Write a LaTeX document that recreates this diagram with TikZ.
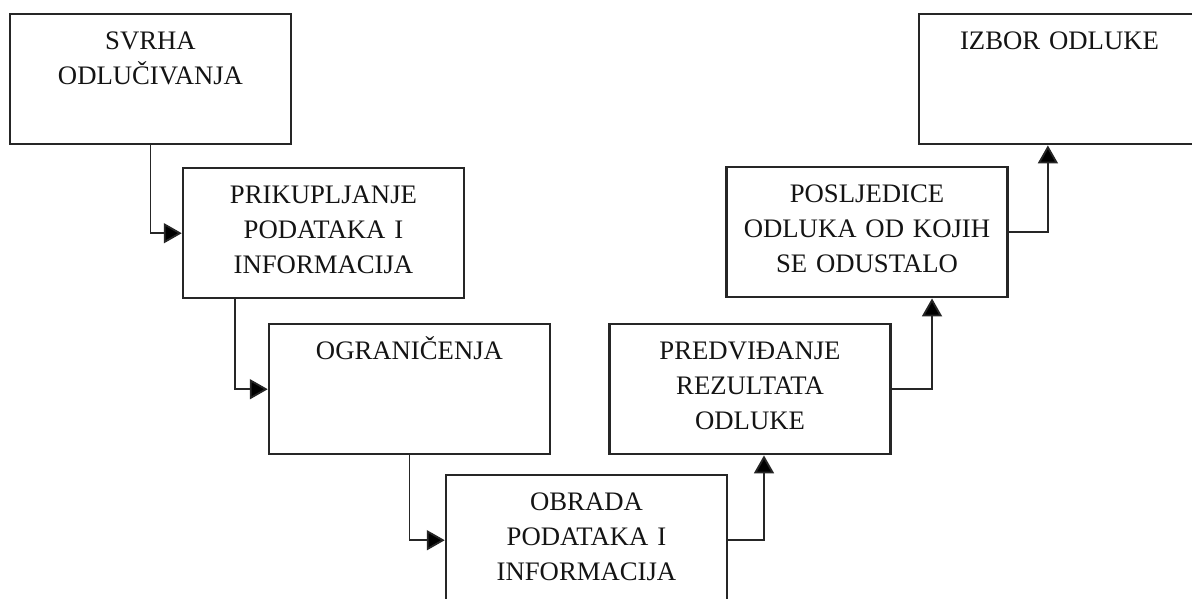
\documentclass[tikz,border=0pt]{standalone}
\usepackage{fontspec}
\setmainfont{Liberation Serif}
\usetikzlibrary{arrows.meta}
\definecolor{linecolor}{gray}{0.15}
\definecolor{textcolor}{gray}{0.08}

\begin{document}
\begin{tikzpicture}[x=0.025cm,y=-0.025cm,
	korak/.style={draw=linecolor,line width=1.7pt,anchor=north,align=center,text=textcolor,
		text width=6.6cm,minimum width=7.025cm,inner xsep=0.2125cm,inner ysep=0.385cm,
		text height=0.5cm,text depth=1.98cm,font=\fontsize{19}{25}\selectfont},
	veza/.style={draw=linecolor,line width=1.3pt,-{Triangle[length=0.45cm,width=0.5cm,fill=black]}}]
			\useasboundingbox (0,0) rectangle (1192,599);
			%koraci odlucivanja
			\node[korak] (svrha) at (150.5,13) {SVRHA\\ODLUČIVANJA};
			\node[korak] (prik) at (323.5,167) {PRIKUPLJANJE\\PODATAKA I\\INFORMACIJA};
			\node[korak] (ogr) at (409.5,323) {OGRANIČENJA};
			\node[korak] (obrada) at (586.5,474) {OBRADA\\PODATAKA I\\INFORMACIJA};
			\node[korak] (pred) at (750,323) {PREDVIĐANJE\\REZULTATA\\ODLUKE};
			\node[korak] (posl) at (867,166) {POSLJEDICE\\ODLUKA OD KOJIH\\SE ODUSTALO};
			\node[korak] (izbor) at (1059.5,13) {IZBOR ODLUKE};
			%strelice dolje
			\draw[veza] (svrha) |- (prik);
			\draw[veza] ([xshift=1.325cm]prik.south west) |- (ogr);
			\draw[veza] (ogr) |- (obrada);
			%strelice gore
			\draw[veza] (obrada) -| ([xshift=0.35cm]pred.south);
			\draw[veza] (pred) -| ([xshift=1.625cm]posl.south);
			\draw[veza] (posl) -| ([xshift=-0.29cm]izbor.south);
		\end{tikzpicture}
\end{document}
